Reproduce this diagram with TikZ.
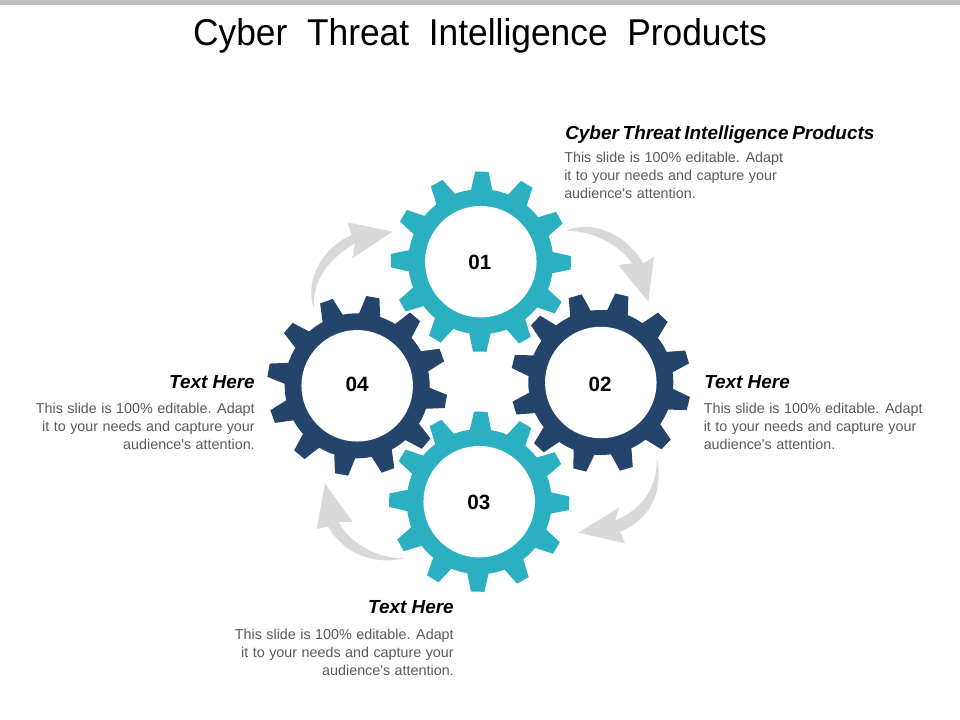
\documentclass[tikz,border=0pt]{standalone}
\usepackage{fontspec}
\setmainfont{Liberation Sans}
\newfontfamily\titlefont[FakeStretch=0.947]{Liberation Sans}
\newfontfamily\bodyfont[WordSpace=1.125]{Liberation Sans}
\definecolor{teal}{HTML}{2BB0C2}
\definecolor{navy}{HTML}{24446B}
\definecolor{arrowgray}{HTML}{D9D9D9}
\definecolor{bodygray}{HTML}{595959}
\definecolor{bargray}{HTML}{BFBFBF}
\tikzset{
  titletext/.style={font=\titlefont\fontsize{28}{30}\selectfont,text=black,inner sep=0pt},
  headtext/.style={font=\fontsize{14.2}{16}\selectfont\bfseries\itshape,text=black,inner sep=0pt},
  bodytext/.style={font=\bodyfont\fontsize{10.75}{13.5}\selectfont,text=bodygray,inner sep=0pt},
  numtext/.style={font=\fontsize{15.5}{18}\selectfont\bfseries,text=black,inner sep=0pt},
  crescent/.style={fill=arrowgray,draw=none},
}
% name, cx, cy, tooth offset, colour
\newcommand{\gearat}[5]{%
  \begin{scope}[shift={(#2,-#3)}]
    \fill[#5] (0,0) circle (72.5);
    \foreach \k in {0,...,11}{
      \fill[#5,rotate={#4+30*\k}] (68.5,-11.2) -- (72.5,-10.5) -- (90,-6.7) -- (90,6.7) -- (72.5,10.5) -- (68.5,11.2) -- cycle;
    }
    \node[circle,fill=white,minimum size=111.5*0.75pt,inner sep=0pt] (#1) at (0,0) {};
  \end{scope}}
\begin{document}
\begin{tikzpicture}[x=0.75pt,y=0.75pt]
\useasboundingbox (0,0) rectangle (960,-720);
\fill[bargray] (0,0) rectangle (960,-5);
\node[titletext,anchor=base] (title) at (480,-46) {Cyber\ \ Threat\ \ Intelligence\ \ Products};

% curved arrows
\fill[crescent] (566.7,-230.7) .. controls (590,-220) and (625,-232) .. (643.3,-263.3)
  -- (654,-256.7) -- (648.3,-301.7) -- (618.3,-265) -- (631.7,-263.3)
  .. controls (622,-247) and (595,-231) .. cycle;
\fill[crescent] (656.7,-456.7) .. controls (663,-485) and (655,-518) .. (620,-531.7)
  -- (625,-543.3) -- (578.3,-532.7) -- (619.3,-507.3) -- (615,-520.7)
  .. controls (640,-510) and (658,-490) .. cycle;
\fill[crescent] (404,-558.3) .. controls (378,-565) and (345,-556) .. (328.3,-526.7)
  -- (316.7,-529) -- (325,-483.3) -- (352.7,-522.3) -- (338.3,-521.7)
  .. controls (350,-543) and (375,-558) .. cycle;
\fill[crescent] (314,-308.3) .. controls (305,-285) and (318,-250) .. (351.7,-235)
  -- (347.3,-222.3) -- (392.7,-231.7) -- (352.3,-258.3) -- (355,-243.3)
  .. controls (335,-255) and (312,-275) .. cycle;

% gears
\gearat{gearone}{480.8}{261.7}{-0.7}{teal}
\gearat{geartwo}{600.8}{382.5}{16.5}{navy}
\gearat{gearfour}{357.2}{385.8}{20}{navy}
\gearat{gearthree}{479.2}{501.7}{-1}{teal}
\node[numtext] (numone) at (479.8,-262.7) {01};
\node[numtext] (numtwo) at (600,-384.5) {02};
\node[numtext] (numthree) at (478.8,-502.7) {03};
\node[numtext] (numfour) at (357,-384.5) {04};

% texts
\node[headtext,anchor=base west] (headone) at (565,-139.5) {\spaceskip=0.2em Cyber Threat Intelligence Products};
\node[bodytext,anchor=north west,align=left] (bodyone) at (564,-152) {This slide is 100\% editable.\hskip4.3pt\relax Adapt\\it to your needs and capture your\\audience's attention.};
\node[headtext,anchor=base west] (headtwo) at (704,-388.5) {Text Here};
\node[bodytext,anchor=north west,align=left] (bodytwo) at (703.5,-403) {This slide is 100\% editable.\hskip4.3pt\relax Adapt\\it to your needs and capture your\\audience's attention.};
\node[headtext,anchor=base east] (headfour) at (255,-388.5) {Text Here};
\node[bodytext,anchor=north east,align=right] (bodyfour) at (255,-403) {This slide is 100\% editable.\hskip4.3pt\relax Adapt\\it to your needs and capture your\\audience's attention.};
\node[headtext,anchor=base east] (headthree) at (454,-613.5) {Text Here};
\node[bodytext,anchor=north east,align=right] (bodythree) at (454,-629) {This slide is 100\% editable.\hskip4.3pt\relax Adapt\\it to your needs and capture your\\audience's attention.};
\end{tikzpicture}
\end{document}
